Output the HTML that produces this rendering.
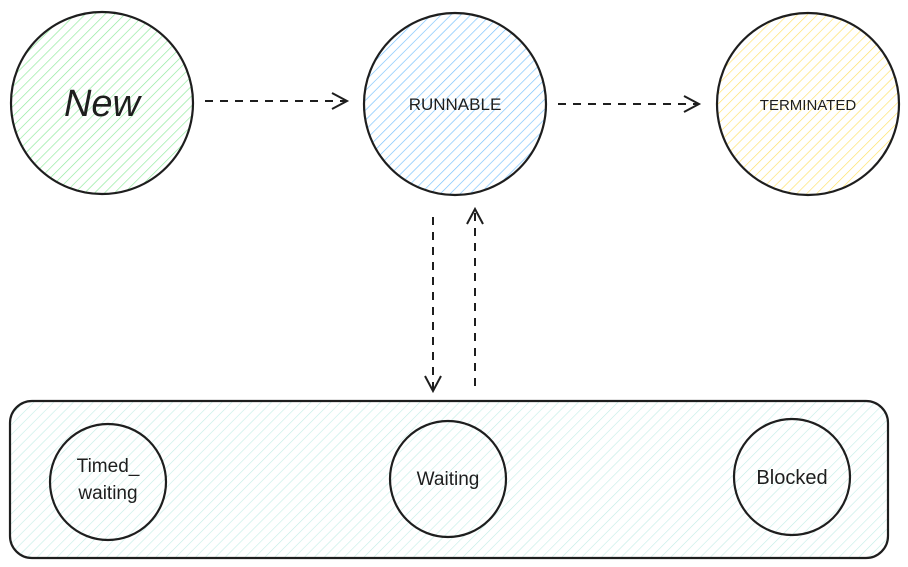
<!DOCTYPE html>
<html><head><meta charset="utf-8"><style>
html,body{margin:0;padding:0;background:#fff;width:908px;height:567px;overflow:hidden}
text{font-family:"Liberation Sans",sans-serif;fill:#1e1e1e}
</style></head><body>
<svg width="908" height="567" viewBox="0 0 908 567" xmlns="http://www.w3.org/2000/svg">
<defs>
<pattern id="g" width="7" height="7" patternUnits="userSpaceOnUse" patternTransform="rotate(45)"><line x1="0" y1="0" x2="0" y2="7" stroke="#8ce99a" stroke-width="1.3"/></pattern>
<pattern id="b" width="7" height="7" patternUnits="userSpaceOnUse" patternTransform="rotate(45)"><line x1="0" y1="0" x2="0" y2="7" stroke="#74c0fc" stroke-width="1.3"/></pattern>
<pattern id="y" width="7" height="7" patternUnits="userSpaceOnUse" patternTransform="rotate(45)"><line x1="0" y1="0" x2="0" y2="7" stroke="#ffe066" stroke-width="1.3"/></pattern>
<pattern id="t" width="7" height="7" patternUnits="userSpaceOnUse" patternTransform="rotate(45)"><line x1="0" y1="0" x2="0" y2="7" stroke="#c3ece6" stroke-width="1.2"/></pattern>
<marker id="a" markerWidth="20" markerHeight="20" refX="17" refY="10" orient="auto" markerUnits="userSpaceOnUse"><path d="M2,2 L17,10 L2,18" fill="none" stroke="#1e1e1e" stroke-width="2"/></marker>
</defs>
<g stroke="#1e1e1e" stroke-width="2.2">
<circle cx="102" cy="103" r="91" fill="url(#g)"/>
<circle cx="455" cy="104" r="91" fill="url(#b)"/>
<circle cx="808" cy="104" r="91" fill="url(#y)"/>
<rect x="10" y="401" width="878" height="157" rx="22" fill="url(#t)"/>
<circle cx="108" cy="482" r="58" fill="none"/>
<circle cx="448" cy="479" r="58" fill="none"/>
<circle cx="792" cy="477" r="58" fill="none"/>
</g>
<g stroke="#1e1e1e" stroke-width="2" fill="none" stroke-dasharray="8,7">
<line x1="205" y1="101" x2="347" y2="101" marker-end="url(#a)"/>
<line x1="558" y1="104" x2="699" y2="104" marker-end="url(#a)"/>
<line x1="433" y1="217" x2="433" y2="391" marker-end="url(#a)"/>
<line x1="475" y1="386" x2="475" y2="209" marker-end="url(#a)"/>
</g>
<text x="102" y="116" font-size="38" text-anchor="middle" font-style="italic">New</text>
<text x="455" y="110" font-size="17" text-anchor="middle">RUNNABLE</text>
<text x="808" y="110" font-size="15" text-anchor="middle">TERMINATED</text>
<text x="108" y="472" font-size="19" text-anchor="middle">Timed_</text>
<text x="108" y="499" font-size="19" text-anchor="middle">waiting</text>
<text x="448" y="485" font-size="19" text-anchor="middle">Waiting</text>
<text x="792" y="484" font-size="20" text-anchor="middle">Blocked</text>
</svg>
</body></html>
